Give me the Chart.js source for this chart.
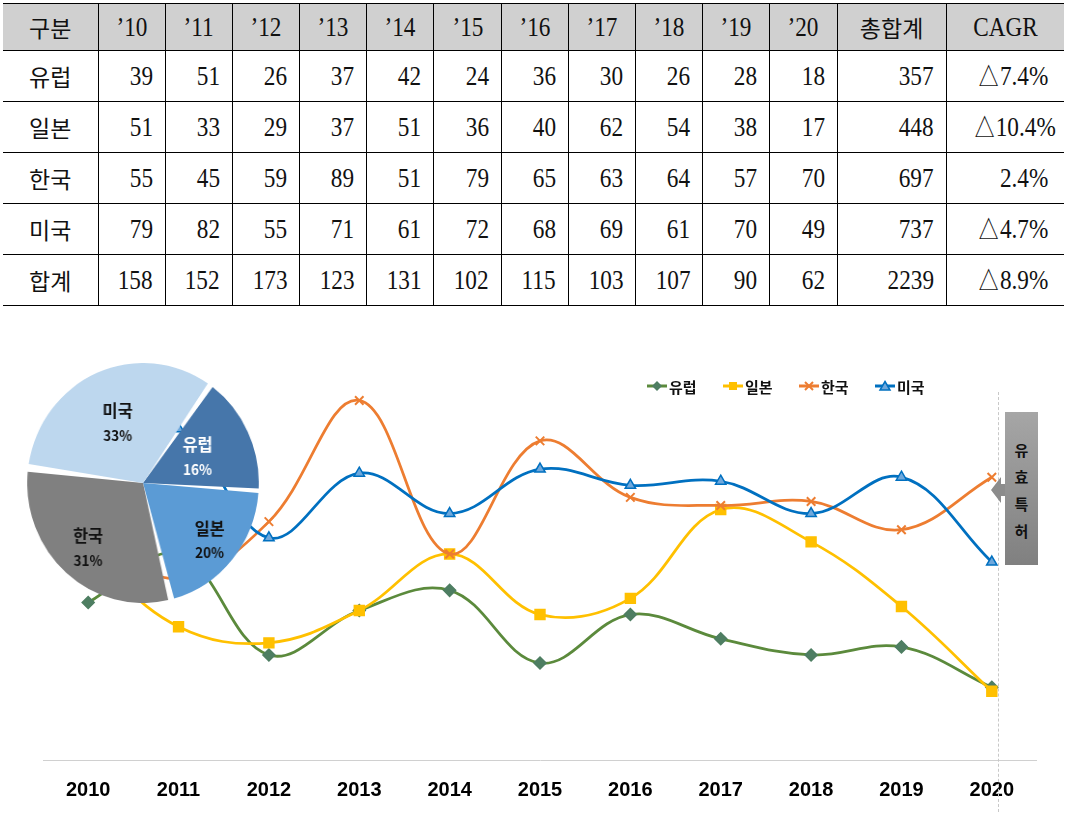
<!DOCTYPE html>
<html lang="ko">
<head>
<meta charset="utf-8">
<script src="https://cdn.jsdelivr.net/npm/chart.js@4.4.0/dist/chart.umd.min.js"></script>
<style>
  body { margin: 0; width: 1068px; height: 822px; background: #fff; position: relative; overflow: hidden; }
  #tbl { position: absolute; left: 3px; top: 3px; border-collapse: collapse; table-layout: fixed; width: 1061px; }
  #tbl td { border-top: 1px solid #000; border-bottom: 1px solid #000; border-left: 1px solid #000; border-right: 1px solid #000;
            padding: 0 12px; height: 50px; font-family: "Liberation Serif", serif; font-size: 27px; color: #111; text-align: right; white-space: nowrap; }
  #tbl tr td:first-child { border-left: none; }
  #tbl tr td:last-child { border-right: none; padding-right: 16px; }
  #tbl tr.head td { background: #d0d0d0; text-align: center; height: 46px; padding: 0; }
  #tbl td.ko { font-family: "Noto Sans CJK KR", sans-serif; font-size: 23px; text-align: center; padding: 0; }
  .num { display: inline-block; transform: scaleX(0.86); transform-origin: right center; }
  .head .num { transform-origin: center center; }
  #lineCanvas { position: absolute; left: 43px; top: 356px; }
  #pieCanvas { position: absolute; left: 23px; top: 363px; transform: scaleX(0.965); transform-origin: center center; }
  #legend { position: absolute; left: 647px; top: 376px; display: flex; font-family: "Noto Sans CJK KR", sans-serif; font-weight: bold; font-size: 15px; color: #111; }
  #legend .item { width: 76px; display: flex; align-items: center; height: 20px; }
  #legend svg { margin-right: 2px; }
  #vline { position: absolute; left: 998px; top: 392px; height: 420px; border-left: 1px dashed #c8c8c8; }
  #tag { position: absolute; left: 1005px; top: 412px; width: 33px; height: 153px; background: linear-gradient(#a6a6a6, #808080);
         display: flex; flex-direction: column; align-items: center; padding-top: 24px; box-sizing: border-box;
         font-family: "Noto Sans CJK KR", sans-serif; font-weight: bold; font-size: 15px; line-height: 27px; color: #111; }
  #arrow { position: absolute; left: 991px; top: 477px; width: 15px; height: 26px; background: #8c8c8c;
           clip-path: polygon(0 50%, 10px 0, 10px 7px, 15px 7px, 15px 19px, 10px 19px, 10px 100%); }
</style>
</head>
<body>
<table id="tbl"></table>
<canvas id="lineCanvas" width="994" height="465"></canvas>
<canvas id="pieCanvas" width="240" height="240"></canvas>
<div id="vline"></div>
<div id="arrow"></div>
<div id="tag"><div>유</div><div>효</div><div>특</div><div>허</div></div>
<div id="legend"></div>
<script>
const years = ['2010', '2011', '2012', '2013', '2014', '2015', '2016', '2017', '2018', '2019', '2020'];
const yearHeads = ['’10', '’11', '’12', '’13', '’14', '’15', '’16', '’17', '’18', '’19', '’20'];
const regions = ['유럽', '일본', '한국', '미국'];
const europe = [39, 51, 26, 37, 42, 24, 36, 30, 26, 28, 18];
const japan = [51, 33, 29, 37, 51, 36, 40, 62, 54, 38, 17];
const korea = [55, 45, 59, 89, 51, 79, 65, 63, 64, 57, 70];
const usa = [79, 82, 55, 71, 61, 72, 68, 69, 61, 70, 49];
const yearTotals = [158, 152, 173, 123, 131, 102, 115, 103, 107, 90, 62];
const regionTotals = [357, 448, 697, 737];
const grandTotal = 2239;
const cagr = ['△7.4%', '△10.4%', '2.4%', '△4.7%'];
const cagrTotal = '△8.9%';
const pieShares = [16, 20, 31, 33];

const colors = { europe: '#5b8a3c', japan: '#ffc000', korea: '#ed7d31', usa: '#0070c0' };
const pieColors = ['#4676aa', '#5b9bd5', '#808080', '#bdd7ee'];
const pieTextColors = ['#ffffff', '#111111', '#111111', '#111111'];

// table
const tbl = document.getElementById('tbl');
const colWidths = [95].concat(years.map(() => 67.2)).concat([109, 118]);
tbl.innerHTML = '<colgroup>' + colWidths.map(w => `<col style="width:${w}px">`).join('') + '</colgroup>';
const cell = v => `<td><span class="num">${v}</span></td>`;
let html = `<tr class="head"><td class="ko">구분</td>${yearHeads.map(cell).join('')}<td class="ko">총합계</td>${cell('CAGR')}</tr>`;
[europe, japan, korea, usa].forEach((row, i) => {
  html += `<tr><td class="ko">${regions[i]}</td>${row.map(cell).join('')}${cell(regionTotals[i])}${cell(cagr[i])}</tr>`;
});
html += `<tr><td class="ko">합계</td>${yearTotals.map(cell).join('')}${cell(grandTotal)}${cell(cagrTotal)}</tr>`;
tbl.innerHTML += html;

// legend
const markers = [
  `<path d="M10 1 L15 6 L10 11 L5 6 Z" fill="#4e7e62"/>`,
  `<rect x="6" y="2" width="8" height="8" fill="${colors.japan}"/>`,
  `<path d="M6 2 L14 10 M14 2 L6 10" stroke="${colors.korea}" stroke-width="2"/>`,
  `<path d="M10 1.5 L15 10 L5 10 Z" fill="#6fa8dc" stroke="${colors.usa}" stroke-width="1.5"/>`
];
const lineCols = [colors.europe, colors.japan, colors.korea, colors.usa];
document.getElementById('legend').innerHTML = regions.map((r, i) =>
  `<div class="item"><svg width="20" height="12"><line x1="0" y1="6" x2="20" y2="6" stroke="${lineCols[i]}" stroke-width="3"/>${markers[i]}</svg>${r}</div>`
).join('');

// line chart
const lineDs = (label, data, color, style, radius, bg, order) => ({
  label, data, order,
  borderColor: color, borderWidth: 2.75, tension: 0.38,
  pointStyle: style, pointRadius: radius, pointBackgroundColor: bg,
  pointBorderColor: style === 'crossRot' ? color : (style === 'triangle' ? color : bg),
  pointBorderWidth: style === 'crossRot' ? 2 : 1.5
});

new Chart(document.getElementById('lineCanvas'), {
  type: 'line',
  data: {
    labels: years,
    datasets: [
      lineDs('유럽', europe, colors.europe, 'rectRot', 6, '#4e7e62', 3),
      lineDs('일본', japan, colors.japan, 'rect', 7, colors.japan, 2),
      lineDs('한국', korea, colors.korea, 'crossRot', 6, colors.korea, 1),
      lineDs('미국', usa, colors.usa, 'triangle', 6, '#6fa8dc', 0)
    ]
  },
  options: {
    responsive: false, animation: false, devicePixelRatio: 1,
    layout: { padding: 0, autoPadding: false },
    plugins: { legend: { display: false }, tooltip: { enabled: false } },
    scales: {
      x: {
        offset: true,
        grid: { display: false, drawTicks: false },
        border: { display: true, color: '#d0d0d0', width: 1 },
        ticks: { color: '#000', padding: 18.5, font: { family: 'Liberation Sans', size: 20, weight: 'bold' } }
      },
      y: { display: false, min: 0, max: 100 }
    }
  }
});

// pie
const labelDist = [0.53, 0.76, 0.73, 0.56];
const pieLabelPlugin = {
  id: 'pieLabels',
  afterDatasetsDraw(chart) {
    const ctx = chart.ctx;
    chart.getDatasetMeta(0).data.forEach((arc, i) => {
      const p = arc.getProps(['x', 'y', 'startAngle', 'endAngle', 'outerRadius'], true);
      const mid = (p.startAngle + p.endAngle) / 2;
      const d = p.outerRadius * labelDist[i];
      const x = p.x + Math.cos(mid) * d, y = p.y + Math.sin(mid) * d;
      ctx.save();
      ctx.fillStyle = pieTextColors[i];
      ctx.textAlign = 'center';
      ctx.textBaseline = 'middle';
      ctx.font = 'bold 17px "Noto Sans CJK KR"';
      ctx.fillText(regions[i], x, y - 12);
      ctx.font = 'bold 14px "Noto Sans CJK KR"';
      ctx.fillText(pieShares[i] + '%', x, y + 13);
      ctx.restore();
    });
  }
};

new Chart(document.getElementById('pieCanvas'), {
  type: 'pie',
  data: { labels: regions, datasets: [{ data: pieShares, backgroundColor: pieColors, borderWidth: 0, spacing: 4 }] },
  options: {
    responsive: false, animation: false, devicePixelRatio: 1, rotation: 36,
    layout: { padding: 0 },
    plugins: { legend: { display: false }, tooltip: { enabled: false } }
  },
  plugins: [pieLabelPlugin]
});
</script>
</body>
</html>
